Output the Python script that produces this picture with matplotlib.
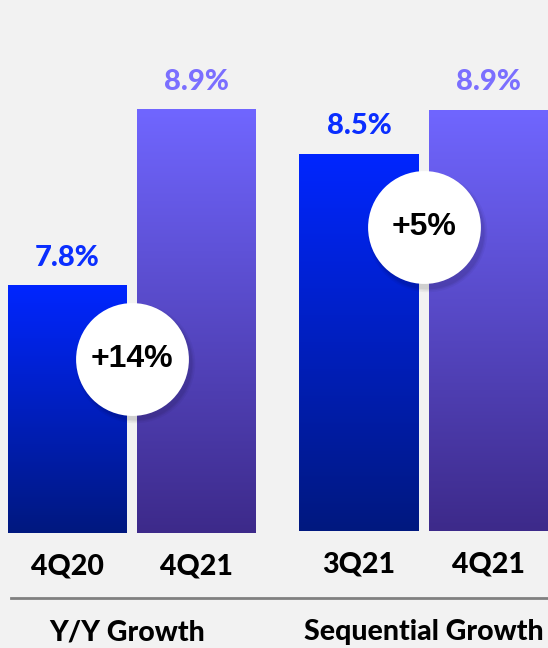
import matplotlib.pyplot as plt
import matplotlib.transforms as mtransforms
from matplotlib.colors import LinearSegmentedColormap
import numpy as np

# data
groups = ['Y/Y Growth', 'Sequential Growth']
quarters = [['4Q20', '4Q21'], ['3Q21', '4Q21']]
values = [[7.8, 8.9], [8.5, 8.9]]
growth = ['+14%', '+5%']

blue_top, blue_bot = '#0026FF', '#00187F'
purp_top, purp_bot = '#7066FF', '#3D2A8A'
label_cols = ['#0A2EFF', '#7B6FFF']

plt.rcParams['font.family'] = ['Lato', 'DejaVu Sans']
W = 'black'

fig = plt.figure(figsize=(5.48, 6.48), dpi=100)
fig.patch.set_facecolor('#F2F2F2')

# axes placement, baselines and x-limits for each group
rects = [[0, 115/648, 274/548, 533/648], [274/548, 117/648, 274/548, 531/648]]
ylims = [(6.25, 6.25 + 533/160), (5.07, 5.07 + 531/110)]
xlims = [(-0.523, 1.601), (-0.656, 1.459)]
circle_y = [7.34, 7.83]
bar_w = 0.92

for g in range(2):
    ax = fig.add_axes(rects[g])
    ax.set_facecolor('none')
    base = ylims[g][0]
    x = np.arange(len(values[g]))
    bars = ax.bar(x, np.array(values[g]) - base, bottom=base, width=bar_w, color='none')
    for i, b in enumerate(bars):
        top, bot = (blue_top, blue_bot) if i == 0 else (purp_top, purp_bot)
        cmap = LinearSegmentedColormap.from_list('g', [bot, top])
        grad = np.linspace(0, 1, 256).reshape(-1, 1)
        x0, y0 = b.get_x(), b.get_y()
        im = ax.imshow(grad, cmap=cmap, aspect='auto', origin='lower',
                       extent=[x0, x0 + b.get_width(), y0, y0 + b.get_height()], zorder=1)
        im.set_clip_path(b)
        ax.annotate(f'{values[g][i]:.1f}%', (b.get_x() + b.get_width()/2, values[g][i]),
                    xytext=(0, 14), textcoords='offset points', ha='center', va='baseline',
                    fontsize=21, fontweight=W, color=label_cols[i])

    # growth bubble with soft shadow
    for sz, a in [(7400, 0.04), (7000, 0.05), (6700, 0.06)]:
        tr = mtransforms.offset_copy(ax.transData, fig, x=2, y=-3, units='points')
        ax.scatter([0.5], [circle_y[g]], s=sz, color='black', alpha=a, lw=0, transform=tr, zorder=3)
    ax.scatter([0.5], [circle_y[g]], s=6600, color='white', lw=0, zorder=4)
    ax.text(0.5, circle_y[g], growth[g], ha='center', va='center', fontsize=23,
            fontweight='bold', family='Liberation Sans', color='black', zorder=5)

    ax.set_xlim(*xlims[g])
    ax.set_ylim(*ylims[g])
    ax.set_xticks(x)
    ax.set_xticklabels(quarters[g], fontsize=20.5, fontweight=W)
    ax.tick_params(axis='x', length=0, pad=15)
    ax.set_yticks([])
    for s in ax.spines.values():
        s.set_visible(False)

fig.add_artist(plt.Line2D([11/548, 1], [1 - 598/648] * 2, color='#808080', lw=2))
fig.text(127/548, 1 - 632/648, groups[0], ha='center', va='center', fontsize=20.5, fontweight=W)
fig.text(424/548, 1 - 632/648, groups[1], ha='center', va='center', fontsize=20.5, fontweight=W)

fig.savefig('out.png', dpi=100, facecolor=fig.get_facecolor())
